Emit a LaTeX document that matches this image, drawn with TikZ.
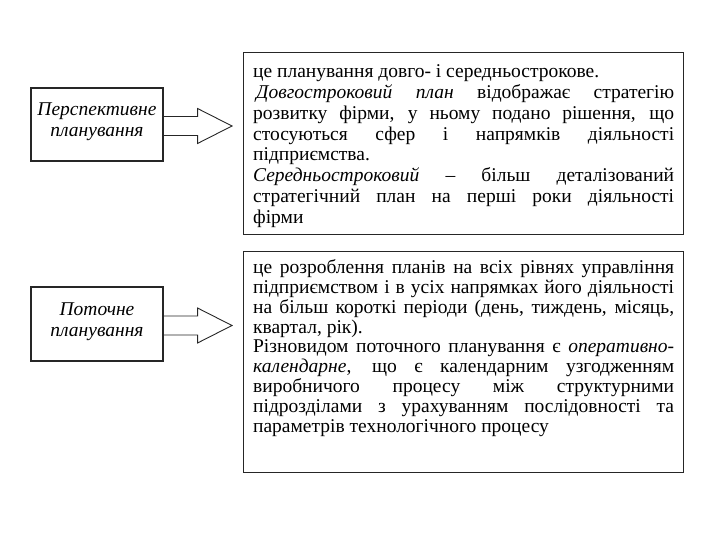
\documentclass[tikz,border=0pt]{standalone}
\usepackage{fontspec}
\setmainfont{Liberation Serif}
\usetikzlibrary{calc}

\begin{document}
\begin{tikzpicture}[x=1pt,y=-1pt,
  kind/.style={draw=black!85, line width=1.1pt, minimum width=132pt, minimum height=73pt, inner sep=0pt, align=center, text height=30pt, text depth=6pt, font=\fontsize{19.5}{21}\selectfont\itshape},
  desc/.style={draw=black!85, line width=1.3pt, anchor=north west, text width=421pt, inner xsep=9.5pt, inner ysep=8pt, align=justify},
  blockarrow/.style={draw=black!85, line width=0.9pt}]
\useasboundingbox (0,0) rectangle (720,540);

\node[kind] (persp) at (97,124.5) {Перспективне\\планування};
\node[kind, minimum height=74pt] (curr) at (97,324) {Поточне\\планування};

\node[desc, text height=17pt, text depth=149pt, font=\fontsize{19.5}{20.8}\selectfont] (perspdesc) at (243,52) {\parindent=0pt\hyphenpenalty=10000\tolerance=9999
це планування довго- і середньострокове.\par
\hspace*{3pt}\textit{Довгостроковий план} відображає стратегію\linebreak
розвитку фірми, у ньому подано рішення, що\linebreak
стосуються сфер і напрямків діяльності\linebreak
підприємства.\par
\textit{Середньостроковий} – більш деталізований\linebreak
стратегічний план на перші роки діяльності\linebreak
фірми};

\node[desc, text height=14pt, text depth=191pt, font=\fontsize{19.5}{19.8}\selectfont] (currdesc) at (243,251) {\parindent=0pt\hyphenpenalty=10000\tolerance=9999
це розроблення планів на всіх рівнях управління\linebreak
підприємством і в усіх напрямках його діяльності\linebreak
на більш короткі періоди (день, тиждень, місяць,\linebreak
квартал, рік).\par
Різновидом поточного планування є \textit{оперативно-}\linebreak
\textit{календарне}, що є календарним узгодженням\linebreak
виробничого процесу між структурними\linebreak
підрозділами з урахуванням послідовності та\linebreak
параметрів технологічного процесу};

% block arrows
\coordinate (tip1) at ($(perspdesc.west |- persp.east)+(-11,1.5)$);
\draw[blockarrow] ($(persp.east)+(0,-8)$) -- ++(34,0) -- ++(0,-8) -- (tip1)
  -- ($(persp.east)+(34,19)$) -- ++(0,-8) -- ($(persp.east)+(0,11)$);

\coordinate (tip2) at ($(currdesc.west |- curr.east)+(-11,1.5)$);
\draw[blockarrow] ($(curr.east)+(0,-8)$) -- ++(34,0) -- ++(0,-8) -- (tip2)
  -- ($(curr.east)+(34,19)$) -- ++(0,-8) -- ($(curr.east)+(0,11)$);

\end{tikzpicture}
\end{document}
